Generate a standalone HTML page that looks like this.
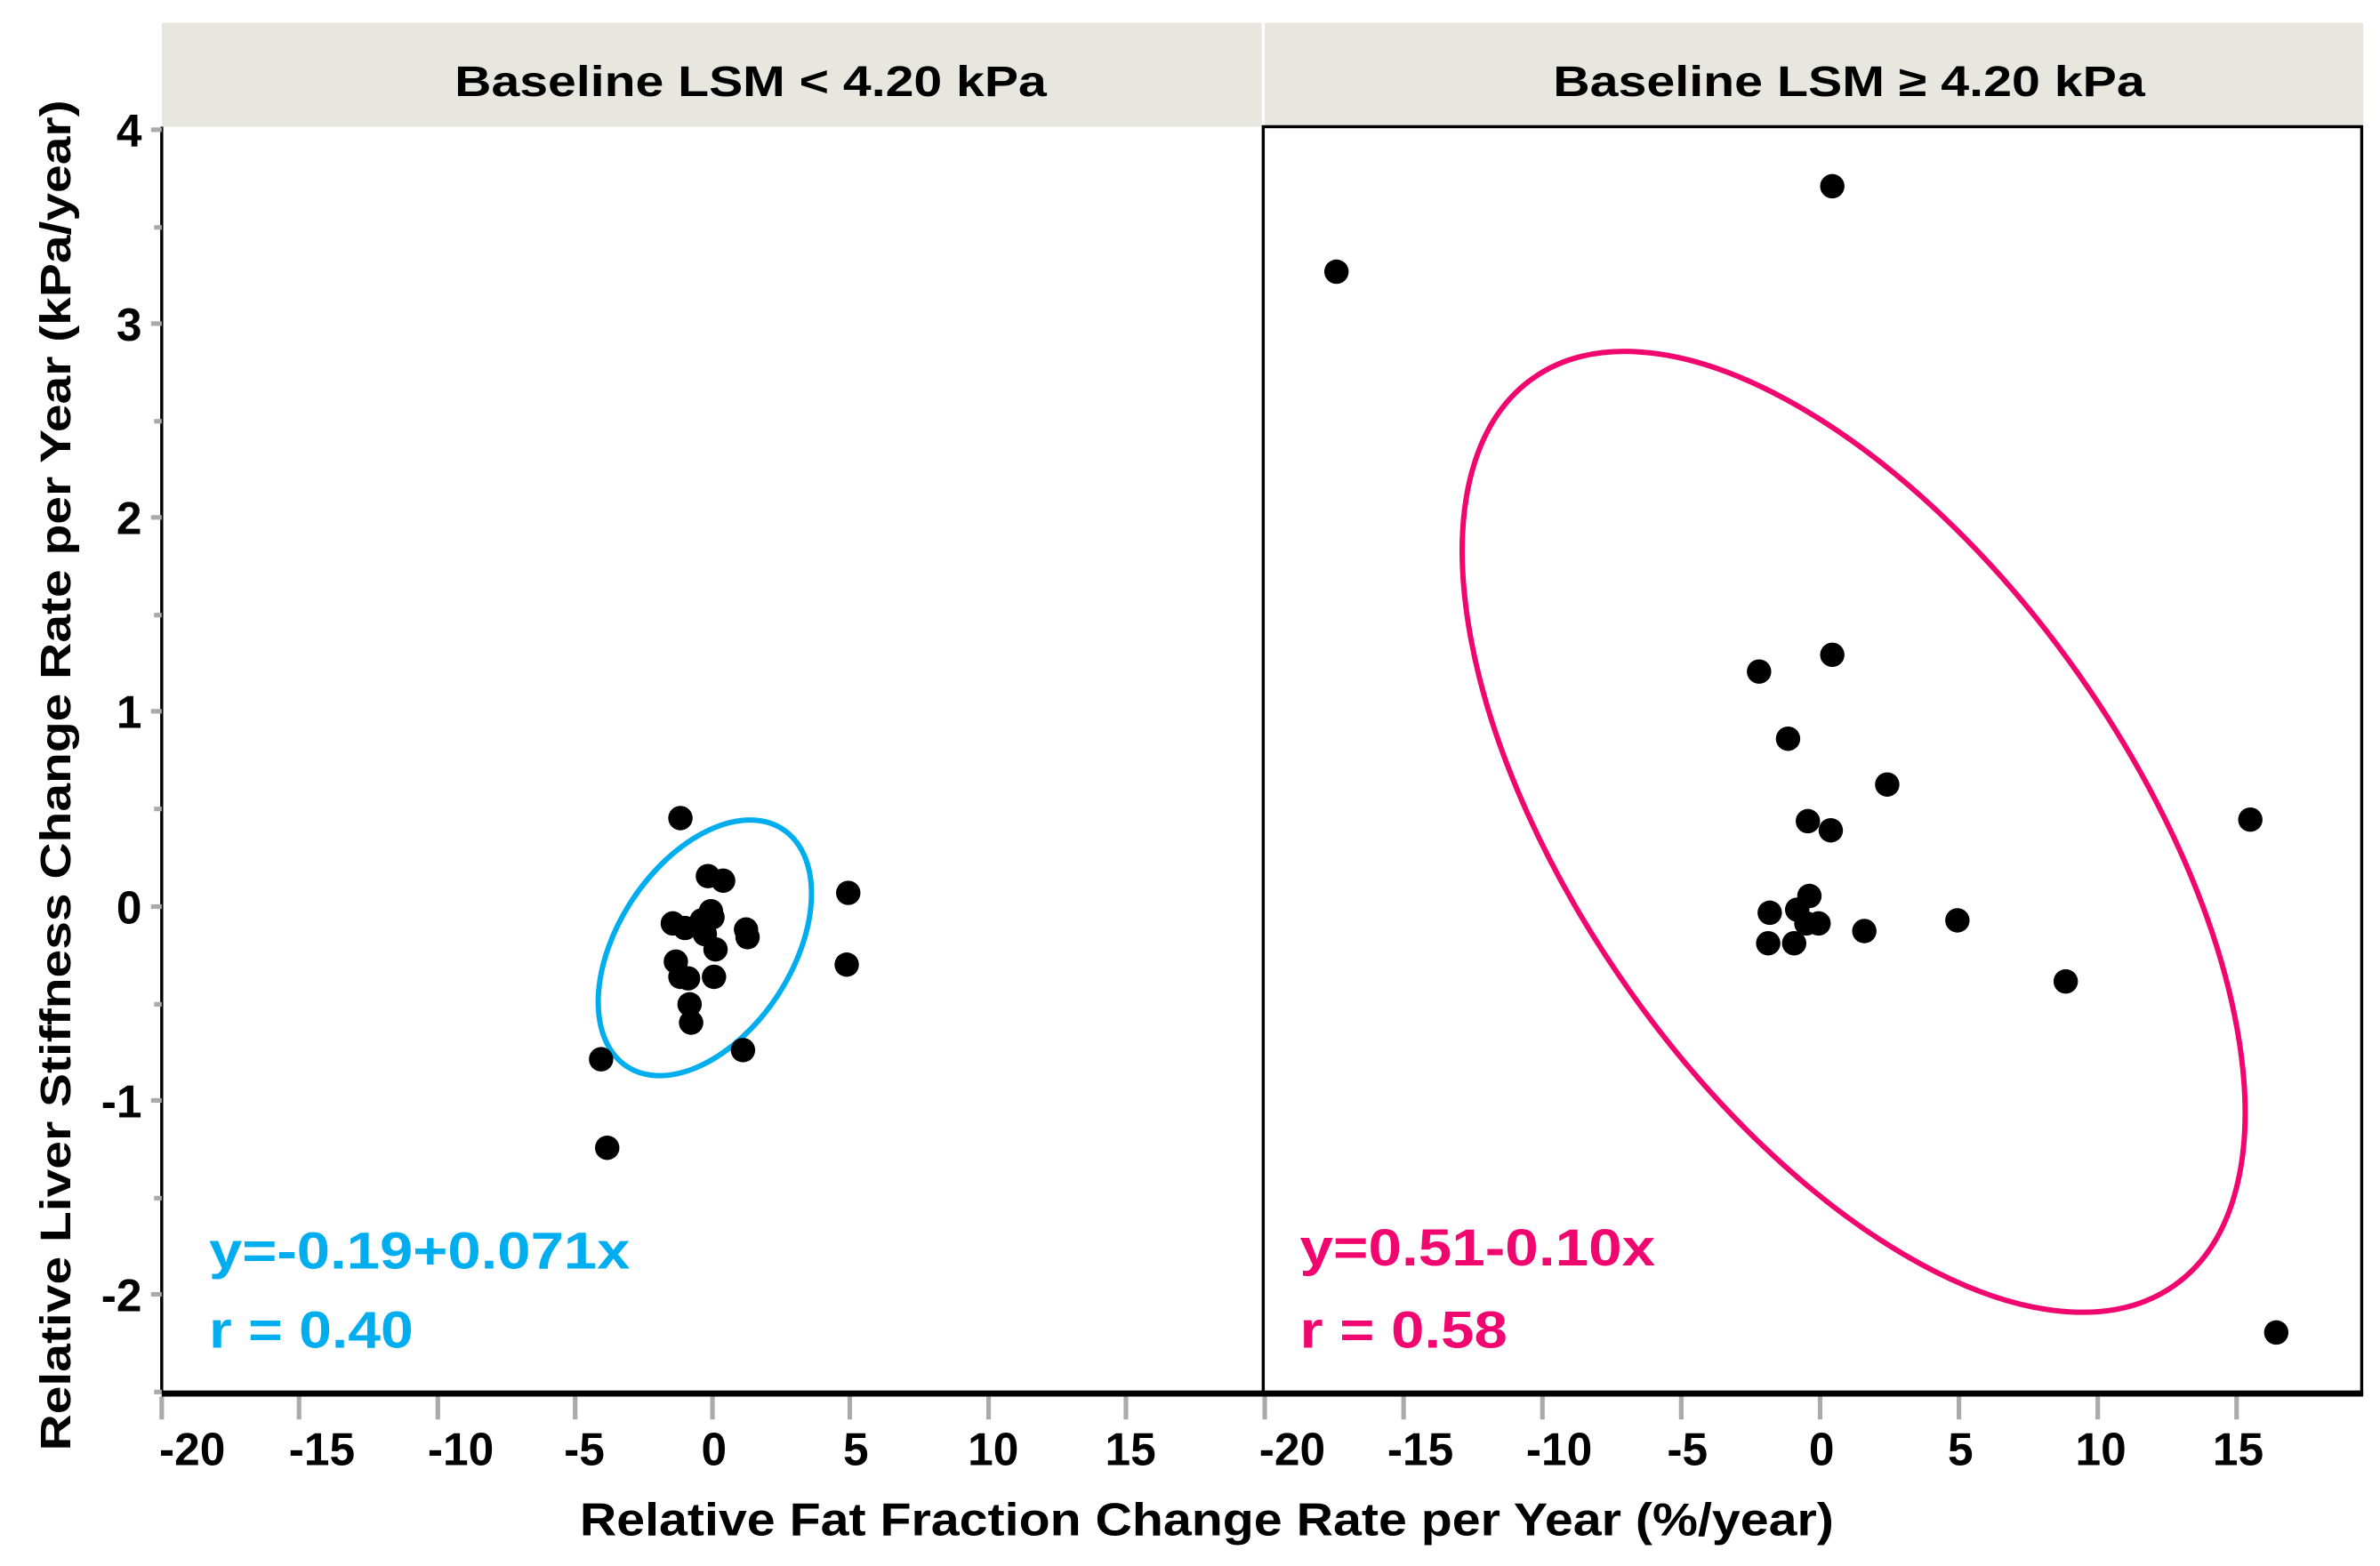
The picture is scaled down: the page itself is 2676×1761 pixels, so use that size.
<!DOCTYPE html>
<html><head><meta charset="utf-8"><style>
html,body{margin:0;padding:0;background:#fff;width:2676px;height:1761px;overflow:hidden}
svg{display:block}
text{font-family:"Liberation Sans",sans-serif;font-weight:bold;fill:#000}
</style></head><body>
<svg width="2676" height="1761" viewBox="0 0 1560 1026" preserveAspectRatio="none" xmlns="http://www.w3.org/2000/svg">
<rect x="106" y="15" width="1443" height="68" fill="#e8e7df"/>
<line x1="828" y1="15" x2="828" y2="83" stroke="#fff" stroke-width="2"/>
<text x="492" y="63" font-size="28" text-anchor="middle" textLength="388" lengthAdjust="spacingAndGlyphs">Baseline LSM &lt; 4.20 kPa</text>
<text x="1212" y="63" font-size="28" text-anchor="middle" textLength="388" lengthAdjust="spacingAndGlyphs">Baseline LSM ≥ 4.20 kPa</text>
<rect x="828" y="83" width="720" height="830" fill="none" stroke="#000" stroke-width="2"/>
<line x1="106" y1="83" x2="106" y2="913" stroke="#000" stroke-width="2"/>
<line x1="106" y1="913" x2="1549" y2="913" stroke="#000" stroke-width="4"/>
<g stroke="#aaa" stroke-width="3">
<line x1="99" y1="85" x2="106" y2="85"/><line x1="101" y1="149" x2="106" y2="149"/>
<line x1="99" y1="212" x2="106" y2="212"/><line x1="101" y1="276" x2="106" y2="276"/>
<line x1="99" y1="339" x2="106" y2="339"/><line x1="101" y1="403" x2="106" y2="403"/>
<line x1="99" y1="466" x2="106" y2="466"/><line x1="101" y1="530" x2="106" y2="530"/>
<line x1="99" y1="594" x2="106" y2="594"/><line x1="101" y1="658" x2="106" y2="658"/>
<line x1="99" y1="721" x2="106" y2="721"/><line x1="101" y1="785" x2="106" y2="785"/>
<line x1="99" y1="848" x2="106" y2="848"/><line x1="101" y1="912" x2="106" y2="912"/>
</g>
<g font-size="30" text-anchor="end">
<text x="93" y="96">4</text><text x="93" y="223">3</text><text x="93" y="350">2</text>
<text x="93" y="477">1</text><text x="93" y="605">0</text><text x="93" y="732">-1</text><text x="93" y="859">-2</text>
</g>
<g stroke="#aaa" stroke-width="3">
<line x1="106" y1="915" x2="106" y2="930"/><line x1="196" y1="915" x2="196" y2="930"/>
<line x1="287" y1="915" x2="287" y2="930"/><line x1="377" y1="915" x2="377" y2="930"/>
<line x1="467" y1="915" x2="467" y2="930"/><line x1="557" y1="915" x2="557" y2="930"/>
<line x1="648" y1="915" x2="648" y2="930"/><line x1="738" y1="915" x2="738" y2="930"/>
<line x1="829" y1="915" x2="829" y2="930"/><line x1="920" y1="915" x2="920" y2="930"/>
<line x1="1011" y1="915" x2="1011" y2="930"/><line x1="1102" y1="915" x2="1102" y2="930"/>
<line x1="1193" y1="915" x2="1193" y2="930"/><line x1="1284" y1="915" x2="1284" y2="930"/>
<line x1="1375" y1="915" x2="1375" y2="930"/><line x1="1466" y1="915" x2="1466" y2="930"/>
</g>
<g font-size="30" text-anchor="middle">
<text x="126" y="960">-20</text><text x="211" y="960">-15</text><text x="302" y="960">-10</text><text x="383" y="960">-5</text>
<text x="468" y="960">0</text><text x="561" y="960">5</text><text x="651" y="960">10</text><text x="741" y="960">15</text>
<text x="847" y="960">-20</text><text x="931" y="960">-15</text><text x="1022" y="960">-10</text><text x="1106" y="960">-5</text>
<text x="1194" y="960">0</text><text x="1285" y="960">5</text><text x="1377" y="960">10</text><text x="1467" y="960">15</text>
</g>
<text x="791" y="1006" font-size="30" text-anchor="middle" textLength="822" lengthAdjust="spacingAndGlyphs">Relative Fat Fraction Change Rate per Year (%/year)</text>
<text transform="translate(46,508) rotate(-90)" font-size="28" text-anchor="middle" textLength="885" lengthAdjust="spacingAndGlyphs">Relative Liver Stiffness Change Rate per Year (kPa/year)</text>
<ellipse cx="462" cy="621" rx="93" ry="57" transform="rotate(-56.6 462 621)" fill="none" stroke="#00aeef" stroke-width="3.5"/>
<ellipse cx="1215" cy="545" rx="364" ry="180" transform="rotate(54.7 1215 545)" fill="none" stroke="#f0066e" stroke-width="3.5"/>
<g fill="#000">
<circle cx="446" cy="536" r="8"/><circle cx="464" cy="574" r="8"/><circle cx="474" cy="577" r="8"/>
<circle cx="441" cy="605" r="8"/><circle cx="449" cy="608" r="8"/><circle cx="460" cy="603" r="8"/>
<circle cx="466" cy="597" r="8"/><circle cx="467" cy="601" r="8"/><circle cx="462" cy="612" r="8"/>
<circle cx="469" cy="622" r="8"/><circle cx="489" cy="609" r="8"/><circle cx="490" cy="614" r="8"/>
<circle cx="443" cy="630" r="8"/><circle cx="446" cy="640" r="8"/><circle cx="451" cy="641" r="8"/>
<circle cx="468" cy="640" r="8"/><circle cx="452" cy="658" r="8"/><circle cx="453" cy="670" r="8"/>
<circle cx="487" cy="688" r="8"/><circle cx="556" cy="585" r="8"/><circle cx="555" cy="632" r="8"/>
<circle cx="394" cy="694" r="8"/><circle cx="398" cy="752" r="8"/>
<circle cx="876" cy="178" r="8"/><circle cx="1201" cy="122" r="8"/><circle cx="1153" cy="440" r="8"/>
<circle cx="1201" cy="429" r="8"/><circle cx="1172" cy="484" r="8"/><circle cx="1237" cy="514" r="8"/>
<circle cx="1185" cy="538" r="8"/><circle cx="1200" cy="544" r="8"/><circle cx="1475" cy="537" r="8"/>
<circle cx="1186" cy="587" r="8"/><circle cx="1178" cy="596" r="8"/><circle cx="1160" cy="598" r="8"/>
<circle cx="1184" cy="605" r="8"/><circle cx="1192" cy="605" r="8"/><circle cx="1159" cy="618" r="8"/>
<circle cx="1176" cy="618" r="8"/><circle cx="1222" cy="610" r="8"/><circle cx="1283" cy="603" r="8"/>
<circle cx="1354" cy="643" r="8"/><circle cx="1492" cy="873" r="8"/>
</g>
<text x="137" y="831" font-size="34" style="fill:#00aeef" textLength="276" lengthAdjust="spacingAndGlyphs">y=-0.19+0.071x</text>
<text x="137" y="883" font-size="34" style="fill:#00aeef" textLength="134" lengthAdjust="spacingAndGlyphs">r = 0.40</text>
<text x="852" y="829" font-size="34" style="fill:#f0066e" textLength="233" lengthAdjust="spacingAndGlyphs">y=0.51-0.10x</text>
<text x="852" y="883" font-size="34" style="fill:#f0066e" textLength="136" lengthAdjust="spacingAndGlyphs">r = 0.58</text>
</svg>
</body></html>
